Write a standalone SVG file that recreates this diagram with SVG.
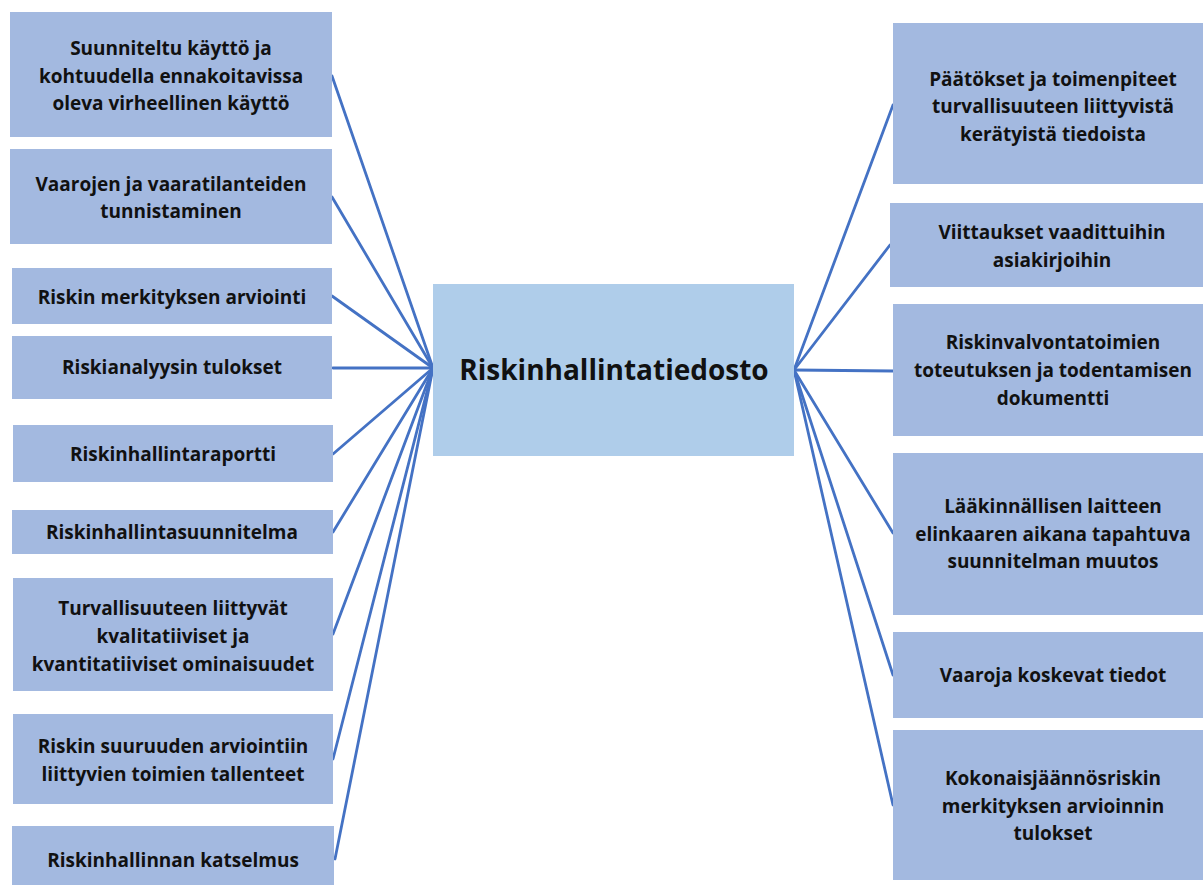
<svg xmlns="http://www.w3.org/2000/svg" width="1203" height="885" viewBox="0 0 1203 885">
  <style>
    .box { fill: #A3B9E0; }
    .hub { fill: #AFCDEA; }
    .lbl { font-family: "Open Sans", "Noto Sans", "Liberation Sans", sans-serif; font-weight: 700; font-size: 19px; fill: #111; text-anchor: middle; }
    .title { font-family: "Open Sans", "Noto Sans", "Liberation Sans", sans-serif; font-weight: 700; font-size: 28px; fill: #111; text-anchor: middle; }
    .link { stroke: #4472C4; stroke-width: 2.8; fill: none; stroke-linecap: round; }
  </style>
  <rect width="1203" height="885" fill="#ffffff"/>

  <!-- connectors from the central file to every item -->
  <g id="connectors">
    <line class="link" x1="433" y1="368" x2="332" y2="76"/>
    <line class="link" x1="433" y1="368" x2="332" y2="197"/>
    <line class="link" x1="433" y1="368" x2="332" y2="296"/>
    <line class="link" x1="433" y1="368" x2="333" y2="368"/>
    <line class="link" x1="433" y1="368" x2="333" y2="454"/>
    <line class="link" x1="433" y1="368" x2="333" y2="532"/>
    <line class="link" x1="433" y1="368" x2="333" y2="634"/>
    <line class="link" x1="433" y1="368" x2="333" y2="759"/>
    <line class="link" x1="433" y1="368" x2="335" y2="859"/>
    <line class="link" x1="794" y1="370" x2="893" y2="105"/>
    <line class="link" x1="794" y1="370" x2="890" y2="245"/>
    <line class="link" x1="794" y1="370" x2="893" y2="371"/>
    <line class="link" x1="794" y1="370" x2="893" y2="533"/>
    <line class="link" x1="794" y1="370" x2="893" y2="675"/>
    <line class="link" x1="794" y1="370" x2="893" y2="805"/>
  </g>

  <!-- central node -->
  <g id="center">
    <rect class="hub" x="433" y="284" width="361" height="172"/>
    <text class="title" x="614" y="380">Riskinhallintatiedosto</text>
  </g>

  <!-- left column -->
  <g id="l1">
    <rect class="box" x="10" y="12" width="322" height="125"/>
    <text class="lbl" x="171" y="55">Suunniteltu käyttö ja</text>
    <text class="lbl" x="171" y="83">kohtuudella ennakoitavissa</text>
    <text class="lbl" x="171" y="110">oleva virheellinen käyttö</text>
  </g>
  <g id="l2">
    <rect class="box" x="10" y="149" width="322" height="95"/>
    <text class="lbl" x="171" y="191">Vaarojen ja vaaratilanteiden</text>
    <text class="lbl" x="171" y="218">tunnistaminen</text>
  </g>
  <g id="l3">
    <rect class="box" x="12" y="268" width="320" height="56"/>
    <text class="lbl" x="172" y="304">Riskin merkityksen arviointi</text>
  </g>
  <g id="l4">
    <rect class="box" x="12" y="336" width="320" height="63"/>
    <text class="lbl" x="172" y="374">Riskianalyysin tulokset</text>
  </g>
  <g id="l5">
    <rect class="box" x="13" y="425" width="320" height="57"/>
    <text class="lbl" x="173" y="461">Riskinhallintaraportti</text>
  </g>
  <g id="l6">
    <rect class="box" x="12" y="510" width="321" height="44"/>
    <text class="lbl" x="172" y="539">Riskinhallintasuunnitelma</text>
  </g>
  <g id="l7">
    <rect class="box" x="13" y="578" width="320" height="113"/>
    <text class="lbl" x="173" y="615">Turvallisuuteen liittyvät</text>
    <text class="lbl" x="173" y="643">kvalitatiiviset ja</text>
    <text class="lbl" x="173" y="671">kvantitatiiviset ominaisuudet</text>
  </g>
  <g id="l8">
    <rect class="box" x="13" y="714" width="320" height="90"/>
    <text class="lbl" x="173" y="753">Riskin suuruuden arviointiin</text>
    <text class="lbl" x="173" y="781">liittyvien toimien tallenteet</text>
  </g>
  <g id="l9">
    <rect class="box" x="12" y="826" width="322" height="59"/>
    <text class="lbl" x="173" y="867">Riskinhallinnan katselmus</text>
  </g>

  <!-- right column -->
  <g id="r1">
    <rect class="box" x="893" y="23" width="310" height="161"/>
    <text class="lbl" x="1053" y="86">Päätökset ja toimenpiteet</text>
    <text class="lbl" x="1053" y="113">turvallisuuteen liittyvistä</text>
    <text class="lbl" x="1053" y="141">kerätyistä tiedoista</text>
  </g>
  <g id="r2">
    <rect class="box" x="890" y="203" width="313" height="84"/>
    <text class="lbl" x="1052" y="239">Viittaukset vaadittuihin</text>
    <text class="lbl" x="1052" y="267">asiakirjoihin</text>
  </g>
  <g id="r3">
    <rect class="box" x="893" y="304" width="310" height="132"/>
    <text class="lbl" x="1053" y="349">Riskinvalvontatoimien</text>
    <text class="lbl" x="1053" y="377">toteutuksen ja todentamisen</text>
    <text class="lbl" x="1053" y="405">dokumentti</text>
  </g>
  <g id="r4">
    <rect class="box" x="893" y="453" width="310" height="162"/>
    <text class="lbl" x="1053" y="513">Lääkinnällisen laitteen</text>
    <text class="lbl" x="1053" y="541">elinkaaren aikana tapahtuva</text>
    <text class="lbl" x="1053" y="568">suunnitelman muutos</text>
  </g>
  <g id="r5">
    <rect class="box" x="893" y="632" width="310" height="86"/>
    <text class="lbl" x="1053" y="682">Vaaroja koskevat tiedot</text>
  </g>
  <g id="r6">
    <rect class="box" x="893" y="730" width="310" height="150"/>
    <text class="lbl" x="1053" y="785">Kokonaisjäännösriskin</text>
    <text class="lbl" x="1053" y="813">merkityksen arvioinnin</text>
    <text class="lbl" x="1053" y="840">tulokset</text>
  </g>
</svg>
